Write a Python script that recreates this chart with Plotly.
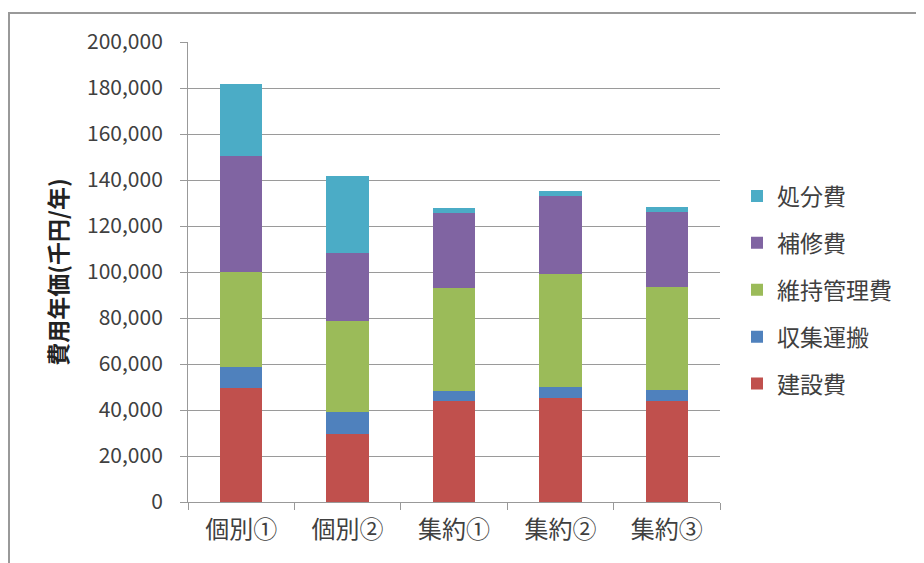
import plotly.graph_objects as go

categories = ["個別①", "個別②", "集約①", "集約②", "集約③"]
series_names = ["建設費", "収集運搬", "維持管理費", "補修費", "処分費"]
kensetsu = [49500, 29600, 43900, 45400, 44000]
shushu = [9300, 9700, 4500, 4500, 4700]
iji = [41300, 39400, 44800, 49200, 44600]
hoshu = [50300, 29600, 32300, 33900, 32700]
shobun = [31300, 33400, 2500, 2400, 2400]
colors = ["#C0504D", "#4F81BD", "#9BBB59", "#8064A2", "#4BACC6"]
y_ticks = [0, 20000, 40000, 60000, 80000, 100000, 120000, 140000, 160000, 180000, 200000]
y_tick_labels = ["0", "20,000", "40,000", "60,000", "80,000", "100,000", "120,000",
                 "140,000", "160,000", "180,000", "200,000"]

font_family = "Noto Sans CJK JP, Open Sans, sans-serif"
W, H = 924, 563
L, R, T, B = 180, 212, 34, 69
PW, PH = W - L - R, H - T - B

fig = go.Figure()
n = len(series_names)
for i, (name, vals, col) in enumerate(zip(series_names, [kensetsu, shushu, iji, hoshu, shobun], colors)):
    fig.add_trace(go.Bar(x=categories, y=vals, name=name, marker_color=col,
                         marker_line_width=0, legendgroup=name, legendrank=1000 + (n - i)))

fig.update_layout(
    width=W, height=H,
    margin=dict(l=L, r=R, t=T, b=B, autoexpand=False),
    barmode="stack", bargap=0.6,
    plot_bgcolor="white", paper_bgcolor="white",
    font=dict(family=font_family, size=21, color="#404040"),
    legend=dict(traceorder="grouped", x=(729 - L) / PW, xanchor="left",
                y=(H - B - 282) / PH, yanchor="middle",
                font=dict(size=23, color="#404040"), tracegroupgap=14,
                itemwidth=30),
    showlegend=True,
)
fig.update_xaxes(
    showline=True, linecolor="#999999", linewidth=1,
    ticks="outside", tickson="boundaries", ticklen=7, tickcolor="#999999",
    tickfont=dict(size=24, color="#404040"), ticklabelstandoff=6,
    showgrid=False,
)
fig.update_yaxes(
    range=[0, 200000], tickvals=y_ticks, ticktext=y_tick_labels,
    showline=True, linecolor="#999999", linewidth=1,
    ticks="outside", ticklen=7, tickcolor="#999999", ticklabelstandoff=13,
    showgrid=True, gridcolor="#9a9a9a", gridwidth=1,
    tickfont=dict(size=21, color="#404040"),
    zeroline=False,
    title=dict(text="費用年価(千円/年)", font=dict(size=23, color="#222222", weight="bold"),
               standoff=12),
)
# outer frame
fig.add_shape(type="rect", xref="paper", yref="paper",
              x0=(1 - L) / PW, x1=(940 - L) / PW,
              y0=-(556 - (H - B)) / PH, y1=1 + (T - 5) / PH,
              line=dict(color="#999999", width=2), layer="below")

fig.write_html("out.html")
